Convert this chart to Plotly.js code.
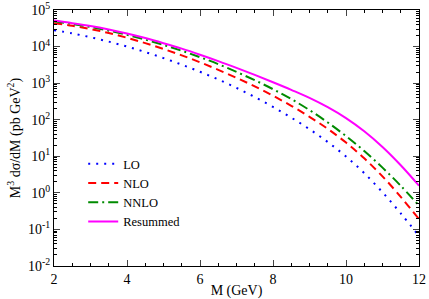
<!DOCTYPE html>
<html>
<head>
<meta charset="utf-8">
<script src="https://cdn.plot.ly/plotly-3.0.1.min.js"></script>
<style>html,body{margin:0;padding:0;background:#fff;}#chart{width:429px;height:299px;}</style>
</head>
<body>
<div id="chart"></div>
<script>
const M = [2, 2.5, 3, 3.5, 4, 4.5, 5, 5.5, 6, 6.5, 7, 7.5, 8, 8.5, 9, 9.5, 10, 10.5, 11, 11.5, 12];
const LO = [28180, 22910, 17990, 13650, 10000, 7079, 4842, 3199, 2042, 1259, 741, 417, 224, 114, 55.0, 24.5, 9.89, 3.47, 1.035, 0.275, 0.066];
const NLO = [43650, 37150, 30200, 23440, 17380, 12450, 8610, 5754, 3715, 2317, 1396, 813, 452, 240, 120, 56.2, 23.7, 8.81, 2.82, 0.776, 0.191];
const NNLO = [48980, 41690, 34280, 27230, 20890, 15490, 11090, 7674, 5129, 3311, 2030, 1202, 684, 367, 183, 84.1, 35.7, 13.9, 4.90, 1.56, 0.449];
const Resummed = [51300, 43650, 36520, 29350, 22780, 17080, 12370, 8760, 5990, 4005, 2615, 1679, 1059, 657, 398, 221, 111, 48.4, 18.0, 5.69, 1.57];
const seriesNames = ['LO', 'NLO', 'NNLO', 'Resummed'];
const yTickVals = [0.01, 0.1, 1, 10, 100, 1000, 10000, 100000];
const yTickText = ['10<sup>-2</sup>', '10<sup>-1</sup>', '10<sup>0</sup>', '10<sup>1</sup>', '10<sup>2</sup>', '10<sup>3</sup>', '10<sup>4</sup>', '10<sup>5</sup>'];
const xTickVals = [2, 4, 6, 8, 10, 12];

const styles = [
  {color: '#0000ff', dash: '2px,6px'},
  {color: '#ff0000', dash: '8px,5px'},
  {color: '#008b00', dash: '10px,4px,2px,4px'},
  {color: '#ff00ff', dash: 'solid'}
];
const ys = [LO, NLO, NNLO, Resummed];
const data = ys.map((y, i) => ({
  x: M, y: y, name: seriesNames[i], type: 'scatter', mode: 'lines',
  line: {color: styles[i].color, dash: styles[i].dash, width: 2, shape: 'spline', smoothing: 1}
}));

const font = {family: '"Liberation Serif", "Times New Roman", serif', size: 14, color: '#000'};
const layout = {
  width: 429, height: 299,
  margin: {l: 54, r: 10, t: 10, b: 33},
  paper_bgcolor: '#fff', plot_bgcolor: '#fff',
  font: font,
  showlegend: true,
  legend: {x: 0.08, y: 0.457, xanchor: 'left', yanchor: 'top', bgcolor: 'rgba(0,0,0,0)',
           font: {family: font.family, size: 12.5, color: '#000'}, tracegroupgap: 0, itemwidth: 30},
  xaxis: {
    range: [2, 12], tickvals: xTickVals, ticks: 'inside', ticklen: 6, tickwidth: 1,
    showline: true, linecolor: '#000', linewidth: 1, mirror: 'ticks', showgrid: false, zeroline: false,
    minor: {dtick: 0.5, ticks: 'inside', ticklen: 3, tickcolor: '#000', showgrid: false},
    title: {text: 'M (GeV)', font: font, standoff: 2},
    tickfont: font
  },
  yaxis: {
    type: 'log', range: [-2, 5], tickvals: yTickVals, ticktext: yTickText,
    ticks: 'inside', ticklen: 6, tickwidth: 1,
    showline: true, linecolor: '#000', linewidth: 1, mirror: 'ticks', showgrid: false, zeroline: false,
    minor: {dtick: 'D1', ticks: 'inside', ticklen: 3, tickcolor: '#000', showgrid: false},
    title: {text: 'M<sup>3</sup> dσ/dM (pb GeV<sup>2</sup>)', font: font, standoff: 4},
    tickfont: font
  }
};
Plotly.newPlot('chart', data, layout, {staticPlot: true, displayModeBar: false});
</script>
</body>
</html>
